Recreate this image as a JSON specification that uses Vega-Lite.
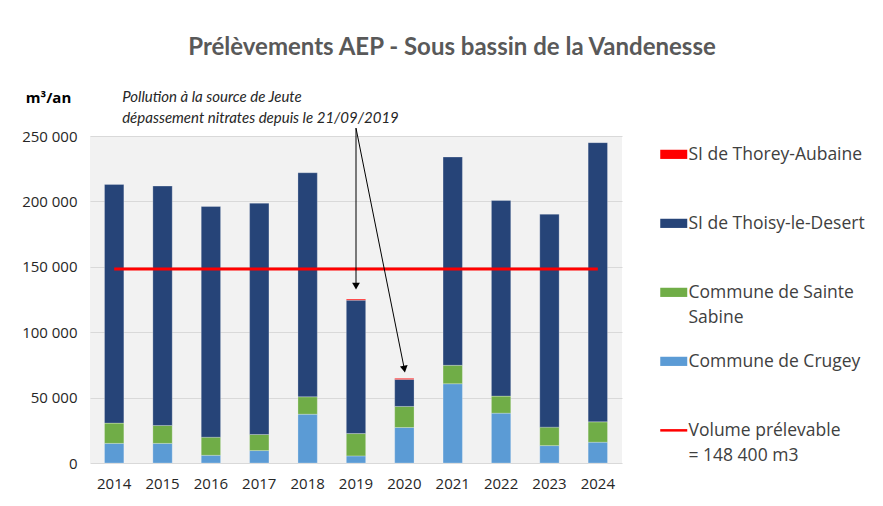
{
  "$schema": "https://vega.github.io/schema/vega-lite/v6.json",
  "width": 532,
  "height": 327,
  "autosize": {"type": "none"},
  "padding": {"left": 90, "top": 136, "right": 261, "bottom": 43},
  "background": "white",
  "config": {
    "font": "Open Sans",
    "view": {"fill": "#f2f2f2", "stroke": null},
    "style": {"guide-label": {"lineHeight": 25}},
    "locale": {"number": {"decimal": ",", "thousands": " ", "grouping": [3], "currency": ["", " €"]}}
  },
  "title": {
    "text": "Prélèvements AEP - Sous bassin de la Vandenesse",
    "anchor": "middle",
    "frame": "group",
    "dx": 96,
    "offset": 18,
    "baseline": "middle",
    "font": "Lato",
    "fontSize": 24,
    "fontWeight": "bold",
    "color": "#595959"
  },
  "data": {
    "values": [
      {"year": "2014", "series": "Commune de Crugey", "value": 15000},
      {"year": "2014", "series": "Commune de Sainte Sabine", "value": 15500},
      {"year": "2014", "series": "SI de Thoisy-le-Desert", "value": 182500},
      {"year": "2015", "series": "Commune de Crugey", "value": 15000},
      {"year": "2015", "series": "Commune de Sainte Sabine", "value": 13700},
      {"year": "2015", "series": "SI de Thoisy-le-Desert", "value": 183000},
      {"year": "2016", "series": "Commune de Crugey", "value": 5900},
      {"year": "2016", "series": "Commune de Sainte Sabine", "value": 13800},
      {"year": "2016", "series": "SI de Thoisy-le-Desert", "value": 176400},
      {"year": "2017", "series": "Commune de Crugey", "value": 9500},
      {"year": "2017", "series": "Commune de Sainte Sabine", "value": 12300},
      {"year": "2017", "series": "SI de Thoisy-le-Desert", "value": 176800},
      {"year": "2018", "series": "Commune de Crugey", "value": 37300},
      {"year": "2018", "series": "Commune de Sainte Sabine", "value": 13300},
      {"year": "2018", "series": "SI de Thoisy-le-Desert", "value": 171300},
      {"year": "2019", "series": "Commune de Crugey", "value": 5400},
      {"year": "2019", "series": "Commune de Sainte Sabine", "value": 17100},
      {"year": "2019", "series": "SI de Thoisy-le-Desert", "value": 102000},
      {"year": "2019", "series": "SI de Thorey-Aubaine", "value": 800},
      {"year": "2020", "series": "Commune de Crugey", "value": 27150},
      {"year": "2020", "series": "Commune de Sainte Sabine", "value": 16100},
      {"year": "2020", "series": "SI de Thoisy-le-Desert", "value": 20650},
      {"year": "2020", "series": "SI de Thorey-Aubaine", "value": 800},
      {"year": "2021", "series": "Commune de Crugey", "value": 60600},
      {"year": "2021", "series": "Commune de Sainte Sabine", "value": 14100},
      {"year": "2021", "series": "SI de Thoisy-le-Desert", "value": 159200},
      {"year": "2022", "series": "Commune de Crugey", "value": 38100},
      {"year": "2022", "series": "Commune de Sainte Sabine", "value": 13050},
      {"year": "2022", "series": "SI de Thoisy-le-Desert", "value": 149550},
      {"year": "2023", "series": "Commune de Crugey", "value": 13300},
      {"year": "2023", "series": "Commune de Sainte Sabine", "value": 14100},
      {"year": "2023", "series": "SI de Thoisy-le-Desert", "value": 162800},
      {"year": "2024", "series": "Commune de Crugey", "value": 15900},
      {"year": "2024", "series": "Commune de Sainte Sabine", "value": 15550},
      {"year": "2024", "series": "SI de Thoisy-le-Desert", "value": 213450}
    ]
  },
  "encoding": {
    "x": {
      "field": "year",
      "type": "ordinal",
      "scale": {"paddingInner": 0.6, "paddingOuter": 0.3},
      "axis": {
        "title": null,
        "labelAngle": 0,
        "ticks": false,
        "domain": false,
        "labelPadding": 13,
        "labelFontSize": 15,
        "labelColor": "#262626",
        "labelFont": "Open Sans"
      }
    }
  },
  "layer": [
    {
      "mark": {"type": "bar", "stroke": "#ffffff", "strokeOpacity": 0.35, "strokeWidth": 0.7},
      "encoding": {
        "y": {
          "field": "value",
          "type": "quantitative",
          "stack": "zero",
          "scale": {"domain": [0, 250000], "nice": false},
          "axis": {
            "values": [0, 50000, 100000, 150000, 200000, 250000],
            "format": ",d",
            "ticks": false,
            "domain": false,
            "labelPadding": 13,
            "labelFontSize": 15,
            "labelColor": "#262626",
            "labelFont": "Open Sans",
            "gridColor": "#d9d9d9",
            "gridWidth": 1,
            "title": "m³/an",
            "titleAngle": 0,
            "titleAlign": "center",
            "titleBaseline": "middle",
            "titleX": -42,
            "titleY": -39,
            "titleFont": "Open Sans",
            "titleFontSize": 15,
            "titleFontWeight": "bold",
            "titleColor": "#000000"
          }
        },
        "color": {
          "field": "series",
          "type": "nominal",
          "scale": {
            "domain": ["SI de Thorey-Aubaine", "SI de Thoisy-le-Desert", "Commune de Sainte Sabine", "Commune de Crugey", "Volume prélevable = 148 400 m3"],
            "range": ["#ff0000", "#264478", "#70ad47", "#5b9bd5", "#ff0000"]
          },
          "legend": {
            "title": null,
            "orient": "right",
            "offset": 28,
            "padding": 15,
            "rowPadding": 25,
            "labelFont": "Open Sans",
            "labelFontSize": 17.5,
            "labelColor": "#404040",
            "labelOffset": 6,
            "labelLimit": 250,
            "labelBaseline": "alphabetic",
            "symbolSize": 729,
            "symbolType": {"expr": "datum.value == 'Volume prélevable = 148 400 m3' ? 'M-1,-0.4H1' : 'M-1,-0.74H1V-0.06H-1Z'"},
            "symbolStrokeWidth": {"expr": "datum.value == 'Volume prélevable = 148 400 m3' ? 2.5 : 0"},
            "symbolStrokeColor": {"expr": "scale('color', datum.value)"},
            "symbolFillColor": {"expr": "datum.value == 'Volume prélevable = 148 400 m3' ? 'transparent' : scale('color', datum.value)"},
            "symbolOpacity": 1,
            "labelExpr": "datum.label == 'Commune de Sainte Sabine' ? ['Commune de Sainte', 'Sabine'] : datum.label == 'Volume prélevable = 148 400 m3' ? ['Volume prélevable', '= 148 400 m3'] : [datum.label, '']"
          }
        },
        "order": {"field": "series", "sort": "ascending"}
      }
    },
    {
      "data": {"values": [{}]},
      "mark": {"type": "rule", "strokeWidth": 3},
      "encoding": {
        "x": {"datum": "2014"},
        "x2": {"datum": "2024"},
        "y": {"datum": 148400},
        "color": {"datum": "Volume prélevable = 148 400 m3"}
      }
    },
    {
      "data": {"values": [{}]},
      "mark": {"type": "rule", "strokeWidth": 1, "color": "#000000"},
      "encoding": {
        "x": {"datum": "2019"},
        "x2": {"datum": "2019"},
        "y": {"datum": 256000},
        "y2": {"datum": 135300}
      }
    },
    {
      "data": {"values": [{}]},
      "mark": {"type": "rule", "strokeWidth": 1, "color": "#000000"},
      "encoding": {
        "x": {"datum": "2019"},
        "x2": {"datum": "2020"},
        "y": {"datum": 256000},
        "y2": {"datum": 71800}
      }
    },
    {
      "data": {"values": [{}]},
      "mark": {"type": "point", "shape": "triangle-down", "filled": true, "color": "#000000", "size": 60, "opacity": 1},
      "encoding": {
        "x": {"datum": "2019"},
        "y": {"datum": 135300}
      }
    },
    {
      "data": {"values": [{}]},
      "mark": {"type": "point", "shape": "triangle-down", "filled": true, "color": "#000000", "size": 60, "opacity": 1, "angle": 350},
      "encoding": {
        "x": {"datum": "2020"},
        "y": {"datum": 71800}
      }
    },
    {
      "data": {"values": [{}]},
      "mark": {"type": "text", "align": "left", "baseline": "alphabetic", "dx": 8, "font": "Lato", "fontSize": 15, "fontStyle": "italic", "color": "#262626", "lineHeight": 21},
      "encoding": {
        "x": {"datum": "2014"},
        "y": {"datum": 276000},
        "text": {"value": ["Pollution à la source de Jeute", "dépassement nitrates depuis le 21/09/2019"]}
      }
    }
  ]
}
